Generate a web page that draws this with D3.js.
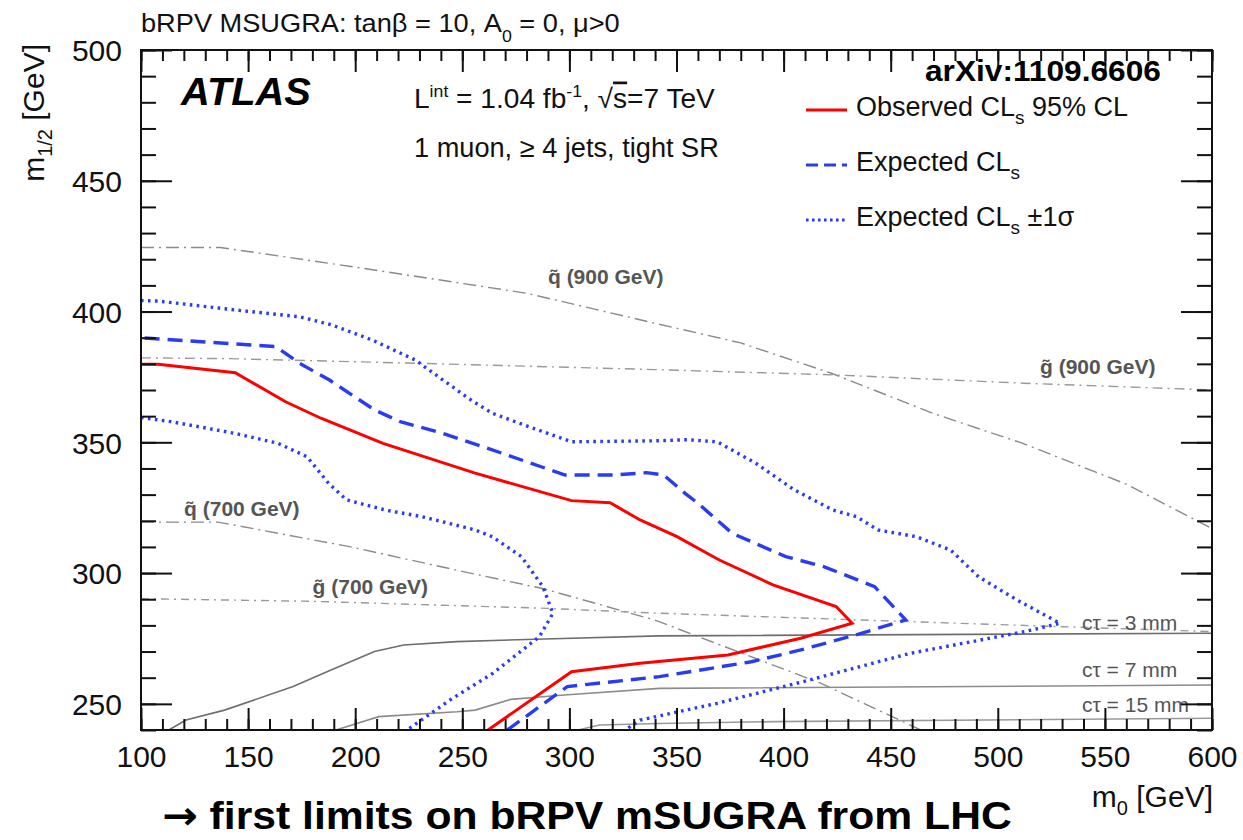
<!DOCTYPE html>
<html><head><meta charset="utf-8">
<script src="https://cdn.jsdelivr.net/npm/d3@7"></script>
<style>
body{margin:0;background:#fff}
svg{display:block}
text{font-family:"Liberation Sans",Arial,Helvetica,sans-serif}
</style>
</head><body>
<svg id="c" width="1243" height="840"></svg>
<script>
// ---------- data (m0 [GeV], m1/2 [GeV]) ----------
const xMajor = [100,150,200,250,300,350,400,450,500,550,600];
const yMajor = [250,300,350,400,450,500];

const obsM0  = [262,301,333,374,408,432,424.5,395,370,350,333,319,301,256,213,184,167.5,144,108,100];
const obsM12 = [240,262.3,265.5,268.7,275.1,280.8,287.2,295.5,305,314,320.3,326.9,327.7,338.2,349.6,359.2,365.5,376.6,379.8,379.8];

const expM0  = [271,299,342,385,408,433.5,457,442.5,419,401,376,360,354,344,336,321,298,264,241,221,209,188,174,163,144,100];
const expM12 = [240,256.6,260.4,266.1,270.6,276.3,282.1,294.8,302.4,306.3,315.2,326.7,330.5,337.5,338.4,337.5,337.5,347.1,353.4,357.9,362.4,373.8,380.2,386.6,387.6,390];

const up1M0  = [100,108,144,174,189,208,228,241,254,264,281,301,342,355,369,387,405,423,434,444,462,478,491,509,529,512.5,459,412,369,333,326];
const up1M12 = [404.2,404,400.6,398,394.9,389.1,381.5,373.8,366.2,361.1,356,350.2,350.6,351,350.2,342,331.8,324.1,321.6,316.5,313.9,308.8,298.6,289.7,280.8,277.6,269.3,259.1,250.2,243.8,240];

const dn1M0  = [100,114,144,164,177.5,187.6,196,214,231,256,264,277.6,287.6,292.3,286,264.3,244.3,224.2];
const dn1M12 = [359.5,357.9,353.4,349.6,344.5,334.3,328,324.1,321.6,316.5,313.9,306.3,294.8,284.6,275.7,261.7,251.5,240];

const sq900M0  = [100,137,200,280,340,380,422,470,512,560,600];
const sq900M12 = [424.5,424.5,417,407,395.5,388,376.5,361,349.5,334,317];
const gl900M0  = [100,140,230,340,423,512,600];
const gl900M12 = [382.3,382,380.2,377.8,375.8,372.6,370];
const sq700M0  = [100,136,198,248,288,340,417,464];
const sq700M12 = [319.5,319.5,310,301,294,282,258,240];
const gl700M0  = [100,180,290,340,460,530,600];
const gl700M12 = [290.2,289.2,286.5,284.7,281.4,279.5,277.6];

const ct3M0  = [113,121,139,171,189,209,222.6,247.5,284,342,600];
const ct3M12 = [240,243.8,247.6,256.6,263,270,272.5,273.8,274.7,276,277];
const ct7M0  = [191,211,247.5,256,272.6,297.6,342,600];
const ct7M12 = [240,245.1,247,247.6,251.7,253.4,255.9,257.2];
const ct15M0  = [304,314,342,396,600];
const ct15M12 = [240,241.9,242.5,243.2,244.5];

const refLabels = ["q\u0303 (900 GeV)","g\u0303 (900 GeV)","q\u0303 (700 GeV)","g\u0303 (700 GeV)","c\u03c4 = 3 mm","c\u03c4 = 7 mm","c\u03c4 = 15 mm"];
const refLabelM0  = [290,519.7,120.1,180.1,539.3,539.3,539.3];
const refLabelM12 = [410.6,376.1,321.8,292,278.2,260.3,246.9];

const legendLabels = ["Observed CL","Expected CL","Expected CL"];
const legendSuffix = [" 95% CL",""," \u00b11\u03c3"];

// ---------- layout ----------
const svg = d3.select("#c");
const L = 141, R = 1212, T = 50, B = 730;
const x = d3.scaleLinear().domain([100,600]).range([L,R]);
const y = d3.scaleLinear().domain([240,500]).range([B,T]);
const BLUE = "#2a3cf2";

function fitW(sel, w){
  const n = sel.node(); const bb = n.getBBox();
  if(bb.width>0){ const s = w/bb.width; sel.attr("transform", `translate(${bb.x},0) scale(${s},1) translate(${-bb.x},0)`); }
}

svg.append("defs").append("clipPath").attr("id","clip")
  .append("rect").attr("x",L).attr("y",T).attr("width",R-L).attr("height",B-T);

const plot = svg.append("g").attr("clip-path","url(#clip)");
const line = d3.line().x(d=>x(d[0])).y(d=>y(d[1]));
const zip = (a,b)=>a.map((v,i)=>[v,b[i]]);

// reference lines
const refs = [
  {d:zip(sq900M0,sq900M12), c:"#8a8a8a", w:1.4, dash:"13,5,2,5"},
  {d:zip(gl900M0,gl900M12), c:"#9a9a9a", w:1.4, dash:"10,5,2,5"},
  {d:zip(sq700M0,sq700M12), c:"#8a8a8a", w:1.4, dash:"13,5,2,5"},
  {d:zip(gl700M0,gl700M12), c:"#9a9a9a", w:1.4, dash:"8,5,2,5"},
  {d:zip(ct3M0,ct3M12), c:"#6e6e6e", w:1.6, dash:null},
  {d:zip(ct7M0,ct7M12), c:"#8c8c8c", w:1.6, dash:null},
  {d:zip(ct15M0,ct15M12), c:"#9a9a9a", w:1.6, dash:null}
];
refs.forEach(r=>{
  plot.append("path").attr("d",line(r.d)).attr("fill","none")
    .attr("stroke",r.c).attr("stroke-width",r.w)
    .attr("stroke-dasharray",r.dash);
});

// limit contours
plot.append("path").attr("d",line(zip(up1M0,up1M12))).attr("fill","none")
  .attr("stroke",BLUE).attr("stroke-width",3.4).attr("stroke-dasharray","2.6,4.4");
plot.append("path").attr("d",line(zip(dn1M0,dn1M12))).attr("fill","none")
  .attr("stroke",BLUE).attr("stroke-width",3.4).attr("stroke-dasharray","2.6,4.4");
plot.append("path").attr("d",line(zip(expM0,expM12))).attr("fill","none")
  .attr("stroke",BLUE).attr("stroke-width",3.4).attr("stroke-dasharray","15,8");
plot.append("path").attr("d",line(zip(obsM0,obsM12))).attr("fill","none")
  .attr("stroke","#ff0000").attr("stroke-width",3);

// reference labels
refLabels.forEach((t,i)=>{
  svg.append("text").attr("x",x(refLabelM0[i])).attr("y",y(refLabelM12[i]))
    .attr("font-size",21).attr("fill","#555").attr("font-weight",i<4?"bold":"normal")
    .text(t);
});

// ---------- axes ----------
function styleAxis(g){ g.select(".domain").remove(); g.selectAll("line").attr("stroke","#111").attr("stroke-width",2); }
const xMinor = d3.range(100,601,10), yMinor = d3.range(240,501,10);

svg.append("g").attr("transform",`translate(0,${B})`)
  .call(d3.axisBottom(x).tickValues(xMinor).tickSize(-11).tickFormat("")).call(styleAxis);
const xa = svg.append("g").attr("transform",`translate(0,${B})`)
  .call(d3.axisBottom(x).tickValues(xMajor).tickSize(-22).tickPadding(0).tickFormat(d3.format("d"))).call(styleAxis);
xa.selectAll("text").attr("dy",null).attr("y",37).attr("font-size",30).attr("fill","#111")
  .style("font-family","'Liberation Sans',Arial,sans-serif");

svg.append("g").attr("transform",`translate(0,${T})`)
  .call(d3.axisTop(x).tickValues(xMinor).tickSize(-11).tickFormat("")).call(styleAxis);
svg.append("g").attr("transform",`translate(0,${T})`)
  .call(d3.axisTop(x).tickValues(xMajor).tickSize(-22).tickFormat("")).call(styleAxis);

svg.append("g").attr("transform",`translate(${L},0)`)
  .call(d3.axisLeft(y).tickValues(yMinor).tickSize(-15).tickFormat("")).call(styleAxis);
const ya = svg.append("g").attr("transform",`translate(${L},0)`)
  .call(d3.axisLeft(y).tickValues(yMajor).tickSize(-31).tickPadding(19).tickFormat(d3.format("d"))).call(styleAxis);
ya.selectAll("text").attr("dy","0.36em").attr("font-size",30).attr("fill","#111")
  .style("font-family","'Liberation Sans',Arial,sans-serif");

svg.append("g").attr("transform",`translate(${R},0)`)
  .call(d3.axisRight(y).tickValues(yMinor).tickSize(-15).tickFormat("")).call(styleAxis);
svg.append("g").attr("transform",`translate(${R},0)`)
  .call(d3.axisRight(y).tickValues(yMajor).tickSize(-31).tickFormat("")).call(styleAxis);

svg.append("rect").attr("x",L).attr("y",T).attr("width",R-L).attr("height",B-T)
  .attr("fill","none").attr("stroke","#111").attr("stroke-width",2);

// axis titles
const yt = svg.append("text").attr("transform","translate(44,44) rotate(-90)")
  .attr("text-anchor","end").attr("font-size",30).attr("fill","#111");
yt.append("tspan").text("m");
yt.append("tspan").attr("font-size",20).attr("dy",8).text("1/2");
yt.append("tspan").attr("dy",-8).text(" [GeV]");

const xt = svg.append("text").attr("x",1213).attr("y",807)
  .attr("text-anchor","end").attr("font-size",30).attr("fill","#111");
xt.append("tspan").text("m");
xt.append("tspan").attr("font-size",20).attr("dy",8).text("0");
xt.append("tspan").attr("dy",-8).text(" [GeV]");

// title
const tt = svg.append("text").attr("x",141).attr("y",32).attr("font-size",26).attr("fill","#111");
tt.append("tspan").text("bRPV MSUGRA: tan\u03b2 = 10, A");
tt.append("tspan").attr("font-size",17).attr("dy",10).text("0");
tt.append("tspan").attr("dy",-10).text(" = 0, \u03bc>0");
fitW(tt, 479);

// ATLAS
const at = svg.append("text").attr("x",181).attr("y",105).attr("font-size",38)
  .attr("font-weight","bold").attr("font-style","italic").attr("fill","#000").text("ATLAS");
fitW(at,131);

// lumi text
const lt = svg.append("text").attr("x",414).attr("y",108).attr("font-size",27).attr("fill","#111");
lt.append("tspan").text("L");
lt.append("tspan").attr("font-size",17).attr("dy",-11).text("int");
lt.append("tspan").attr("dy",11).text(" = 1.04 fb");
lt.append("tspan").attr("font-size",17).attr("dy",-11).text("-1");
lt.append("tspan").attr("dy",11).text(", \u221a");
lt.append("tspan").style("text-decoration","overline").text("s");
lt.append("tspan").text("=7 TeV");
fitW(lt,301);

const st = svg.append("text").attr("x",414).attr("y",157).attr("font-size",27).attr("fill","#111")
  .text("1 muon, \u2265 4 jets, tight SR");
fitW(st,305);

const ax = svg.append("text").attr("x",925).attr("y",81).attr("font-size",30)
  .attr("font-weight","bold").attr("fill","#000").text("arXiv:1109.6606");
fitW(ax,236);

// legend
const legY = [110,165,220];
const legDash = [null,"12,6","2.6,3.4"];
const legCol = ["#ff0000",BLUE,BLUE];
legendLabels.forEach((t,i)=>{
  svg.append("line").attr("x1",806).attr("x2",847).attr("y1",legY[i]).attr("y2",legY[i])
    .attr("stroke",legCol[i]).attr("stroke-width",3).attr("stroke-dasharray",legDash[i]);
  const tx = svg.append("text").attr("x",856).attr("y",legY[i]+6).attr("font-size",27).attr("fill","#111");
  tx.append("tspan").text(t);
  tx.append("tspan").attr("font-size",19).attr("dy",8).text("s");
  if(legendSuffix[i]) tx.append("tspan").attr("dy",-8).text(legendSuffix[i]);
});

// caption
const cap = svg.append("text").attr("x",162).attr("y",829).attr("font-size",39)
  .attr("font-weight","bold").attr("fill","#000");
cap.append("tspan").style("font-family","'DejaVu Sans',sans-serif").attr("font-size",39).text("\u2192");
cap.append("tspan").text(" first limits on bRPV mSUGRA from LHC");
fitW(cap,850);
</script>
</body></html>
